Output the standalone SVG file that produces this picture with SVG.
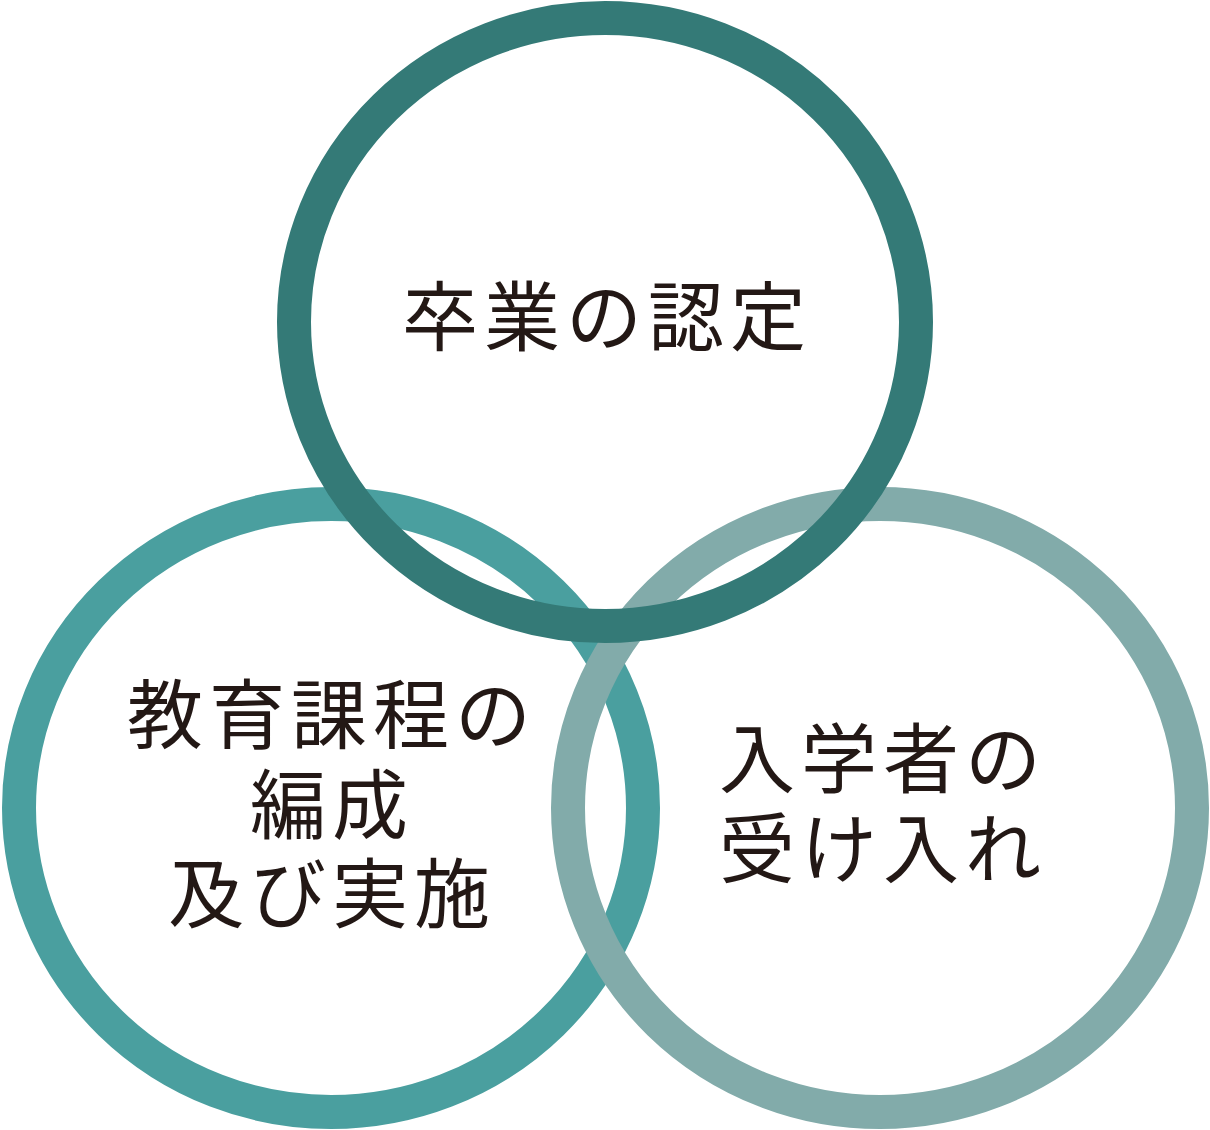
<svg xmlns="http://www.w3.org/2000/svg" width="1210" height="1130" viewBox="0 0 1210 1130">
<style>
.ring{fill:none;stroke-width:34}
.lbl{font-family:"Noto Sans CJK JP","Noto Sans CJK SC",sans-serif;font-size:76px;font-weight:400;fill:#231815;text-anchor:middle;letter-spacing:6px}
</style>
<rect width="1210" height="1130" fill="#ffffff"/>
<g id="node-curriculum">
<ellipse class="ring" cx="331" cy="808" rx="312" ry="304" stroke="#4a9f9f"/>
</g>
<g id="node-admission">
<ellipse class="ring" cx="880" cy="808" rx="312" ry="304" stroke="#82abaa"/>
</g>
<g id="node-graduation">
<ellipse class="ring" cx="605" cy="322" rx="311" ry="304" stroke="#347a77"/>
</g>
<g id="labels">
<text class="lbl" x="607" y="345">卒業の認定</text>
<text class="lbl" x="332" y="743">教育課程の</text>
<text class="lbl" x="332" y="833">編成</text>
<text class="lbl" x="332" y="922">及び実施</text>
<text class="lbl" x="883" y="787">入学者の</text>
<text class="lbl" x="883" y="877">受け入れ</text>
</g>
<g id="connectors"></g>
</svg>
